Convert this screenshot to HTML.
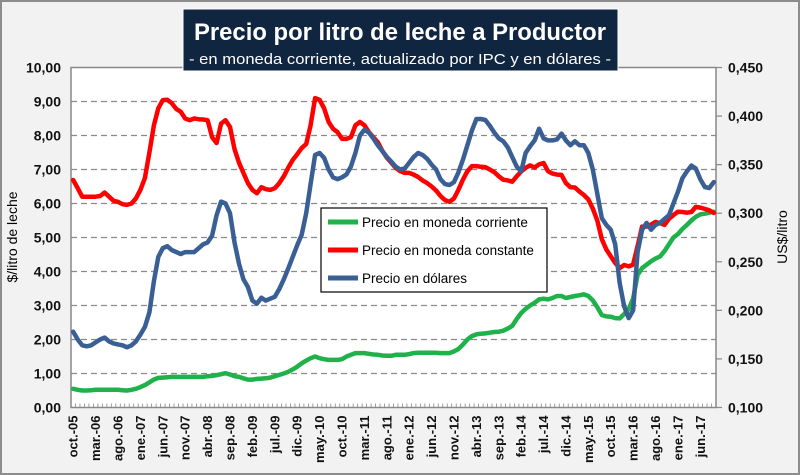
<!DOCTYPE html>
<html><head><meta charset="utf-8"><style>
html,body{margin:0;padding:0;background:#fff}
svg{display:block;font-family:"Liberation Sans",sans-serif}
</style></head><body>
<svg id="c" width="800" height="475" viewBox="0 0 800 475">
<rect x="1" y="1" width="798" height="473" fill="#f2f2f2" stroke="#8c8c8c" stroke-width="2"/>
<rect x="71" y="67.5" width="645" height="340" fill="#fff" stroke="#888" stroke-width="1.5"/>
<g id="grid"></g><g id="axes"></g><g id="series"></g>
<g>
<rect x="183" y="9" width="435" height="62" fill="#0f2540" stroke="#fff" stroke-width="1"/>
<text x="400" y="40" text-anchor="middle" fill="#fff" font-size="24" font-weight="bold" textLength="412" lengthAdjust="spacingAndGlyphs">Precio por litro de leche a Productor</text>
<text x="400" y="64" text-anchor="middle" fill="#fff" font-size="15" textLength="422" lengthAdjust="spacingAndGlyphs">- en moneda corriente, actualizado por IPC y en dólares -</text>
</g>
<text transform="translate(17,237) rotate(-90)" text-anchor="middle" font-size="14" fill="#000">$/litro de leche</text>
<text transform="translate(787,237) rotate(-90)" text-anchor="middle" font-size="14" fill="#000">US$/litro</text>
<g>
<rect x="321" y="208" width="226" height="84" fill="#fff" stroke="#000" stroke-width="1.2"/>
<g><line x1="328" y1="222" x2="358" y2="222" stroke="#1fb14a" stroke-width="5"/><text x="362" y="227" font-size="13.5">Precio en moneda corriente</text></g>
<g><line x1="328" y1="250" x2="358" y2="250" stroke="#ff0000" stroke-width="5"/><text x="362" y="255" font-size="13.5">Precio en moneda constante</text></g>
<g><line x1="328" y1="278" x2="358" y2="278" stroke="#3a5f94" stroke-width="5"/><text x="362" y="283" font-size="13.5">Precio en dólares</text></g>
</g>
</svg>
<script>
const months = ["oct.-05","mar.-06","ago.-06","ene.-07","jun.-07","nov.-07","abr.-08","sep.-08","feb.-09","jul.-09","dic.-09","may.-10","oct.-10","mar.-11","ago.-11","ene.-12","jun.-12","nov.-12","abr.-13","sep.-13","feb.-14","jul.-14","dic.-14","may.-15","oct.-15","mar.-16","ago.-16","ene.-17","jun.-17"];
const leftTicks = ["0,00","1,00","2,00","3,00","4,00","5,00","6,00","7,00","8,00","9,00","10,00"];
const rightTicks = ["0,100","0,150","0,200","0,250","0,300","0,350","0,400","0,450"];
const corriente = [0.55,0.52,0.5,0.5,0.51,0.52,0.52,0.52,0.52,0.52,0.52,0.51,0.5,0.52,0.55,0.6,0.66,0.74,0.82,0.87,0.88,0.89,0.9,0.9,0.9,0.9,0.9,0.9,0.9,0.9,0.92,0.93,0.95,0.98,1.01,0.97,0.92,0.9,0.86,0.82,0.82,0.84,0.85,0.86,0.88,0.92,0.96,1.0,1.05,1.12,1.2,1.3,1.38,1.45,1.5,1.45,1.42,1.4,1.4,1.4,1.42,1.5,1.55,1.6,1.6,1.6,1.58,1.56,1.55,1.53,1.52,1.52,1.55,1.55,1.55,1.57,1.6,1.61,1.61,1.61,1.61,1.61,1.6,1.6,1.6,1.65,1.72,1.85,2.0,2.1,2.15,2.17,2.18,2.2,2.22,2.23,2.26,2.32,2.4,2.6,2.78,2.9,3.0,3.08,3.18,3.2,3.18,3.22,3.28,3.28,3.22,3.25,3.28,3.3,3.33,3.28,3.15,2.95,2.72,2.68,2.67,2.63,2.62,2.75,2.9,3.2,3.9,4.1,4.2,4.3,4.38,4.44,4.6,4.8,5.0,5.1,5.25,5.37,5.5,5.61,5.68,5.7,5.73,5.76];
const constante = [6.69,6.45,6.2,6.2,6.2,6.2,6.22,6.32,6.2,6.08,6.05,5.98,5.96,6.0,6.15,6.4,6.75,7.5,8.3,8.8,9.04,9.05,8.95,8.78,8.7,8.5,8.45,8.5,8.48,8.47,8.45,7.95,7.78,8.35,8.45,8.25,7.6,7.2,6.9,6.6,6.4,6.3,6.48,6.42,6.4,6.45,6.6,6.8,7.05,7.28,7.45,7.63,7.75,8.3,9.1,9.05,8.8,8.4,8.2,8.1,7.9,7.9,7.95,8.3,8.4,8.3,8.1,7.95,7.8,7.55,7.35,7.2,7.05,6.95,6.9,6.9,6.85,6.78,6.68,6.6,6.5,6.38,6.22,6.1,6.05,6.15,6.4,6.7,6.95,7.1,7.1,7.08,7.07,7.0,6.92,6.8,6.7,6.68,6.64,6.8,6.94,7.05,7.12,7.06,7.15,7.19,6.95,6.88,6.85,6.84,6.6,6.48,6.47,6.35,6.25,6.12,5.85,5.5,4.95,4.65,4.45,4.25,4.1,4.19,4.15,4.2,4.75,5.32,5.32,5.38,5.46,5.42,5.37,5.55,5.66,5.76,5.75,5.73,5.75,5.9,5.88,5.84,5.8,5.72];
const dolares = [0.178,0.17,0.164,0.163,0.164,0.167,0.17,0.172,0.168,0.166,0.165,0.164,0.162,0.164,0.168,0.175,0.183,0.198,0.23,0.255,0.264,0.266,0.262,0.26,0.258,0.26,0.26,0.26,0.264,0.268,0.27,0.277,0.298,0.312,0.31,0.3,0.27,0.248,0.232,0.224,0.21,0.207,0.213,0.21,0.212,0.214,0.222,0.232,0.243,0.255,0.267,0.278,0.3,0.33,0.36,0.362,0.357,0.345,0.337,0.335,0.337,0.34,0.348,0.362,0.38,0.386,0.383,0.377,0.37,0.364,0.358,0.353,0.348,0.345,0.346,0.352,0.358,0.362,0.36,0.356,0.35,0.345,0.335,0.33,0.329,0.332,0.342,0.355,0.37,0.385,0.397,0.397,0.396,0.39,0.383,0.377,0.374,0.368,0.358,0.348,0.343,0.362,0.369,0.375,0.387,0.377,0.375,0.375,0.376,0.382,0.375,0.37,0.374,0.37,0.37,0.362,0.345,0.32,0.295,0.288,0.283,0.268,0.228,0.204,0.192,0.2,0.26,0.283,0.29,0.283,0.288,0.29,0.294,0.298,0.31,0.322,0.336,0.343,0.349,0.346,0.335,0.327,0.326,0.332];

const NS="http://www.w3.org/2000/svg";
const X0=71,X1=716,Y0=407.5,Y1=67.5,N=corriente.length;
const step=(X1-X0)/N;
function xs(i){return X0+step*(i+0.5);}
function yl(v){return Y0-(v/10)*(Y0-Y1);}
function yr(v){return Y0-((v-0.1)/0.35)*(Y0-Y1);}
function mk(tag,attrs,parent){const e=document.createElementNS(NS,tag);for(const k in attrs)e.setAttribute(k,attrs[k]);parent.appendChild(e);return e;}
const grid=document.getElementById('grid'),axes=document.getElementById('axes'),ser=document.getElementById('series');

leftTicks.forEach((t,i)=>{
  const y=yl(i);
  if(i>0&&i<leftTicks.length-1){const g=mk('line',{x1:X0,x2:X1,y1:y,y2:y,stroke:'#8a8a8a','stroke-width':1.3,'stroke-dasharray':'6,4'},grid);
  
  }
  const tx=mk('text',{x:X0-10,y:y+5,'text-anchor':'end','font-size':14,'font-weight':'bold',fill:'#111'},axes);
  tx.textContent=t;
  
  
});
rightTicks.forEach((t,i)=>{
  const y=yr(0.1+i*0.05);
  mk('line',{x1:X1,x2:X1+6,y1:y,y2:y,stroke:'#888','stroke-width':1.2},axes);
  const tx=mk('text',{x:X1+12,y:y+5,'font-size':14,'font-weight':'bold',fill:'#111'},axes);
  tx.textContent=t;
  
  
});
for(let i=0;i<=N;i++){const x=X0+step*i;mk('line',{x1:x,x2:x,y1:Y0,y2:Y0-4,stroke:'#888','stroke-width':0.8},axes);}
months.forEach((m,k)=>{
  const x=xs(k*5);
  const tx=mk('text',{transform:`translate(${x+4.5},${Y0+8}) rotate(-90)`,'text-anchor':'end','font-size':13,'font-weight':'bold',fill:'#111'},axes);
  tx.textContent=m;
  
  
});
function line(vals,fy,color,name){
  const d=vals.map((v,i)=>(i?'L':'M')+xs(i).toFixed(1)+','+fy(v).toFixed(1)).join('');
  const p=mk('path',{d:d,fill:'none',stroke:color,'stroke-width':4.5,'stroke-linejoin':'round','stroke-linecap':'round'},ser);
  
  
}
line(corriente,yl,'#1fb14a','series-corriente');
line(constante,yl,'#ff0000','series-constante');
line(dolares,yr,'#3a5f94','series-dolares');
</script>
</body></html>
